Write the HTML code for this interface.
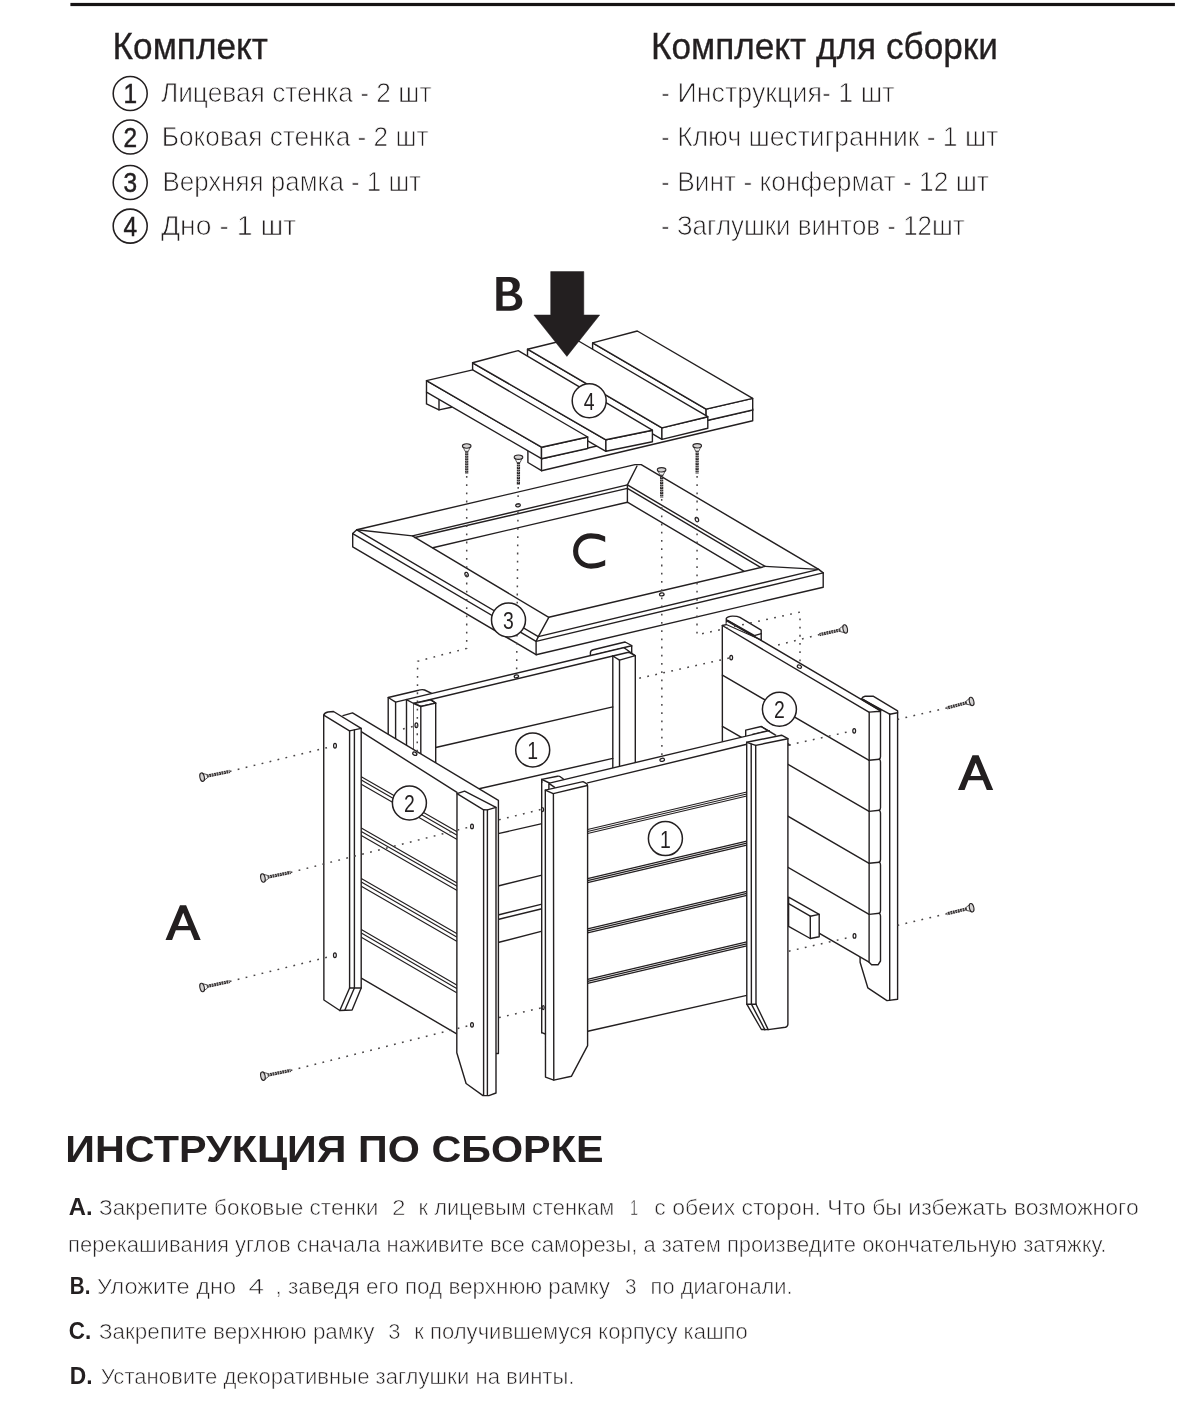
<!DOCTYPE html>
<html lang="ru"><head><meta charset="utf-8"><title>Инструкция по сборке</title>
<style>
html,body{margin:0;padding:0;background:#fff}
body{width:1177px;height:1408px;overflow:hidden;font-family:"Liberation Sans",sans-serif}
svg{display:block;font-family:"Liberation Sans",sans-serif;will-change:transform;transform:translateZ(0)}
</style></head><body>
<svg width="1177" height="1408" viewBox="0 0 1177 1408">
<rect width="1177" height="1408" fill="#fff"/>
<rect x="70.4" y="2.9" width="1104.5" height="3.2" fill="#161314"/>
<text x="112.6" y="58.7" font-size="36.2" font-weight="normal" fill="#231f20" stroke="#231f20" stroke-width="0.3" textLength="155.3" lengthAdjust="spacingAndGlyphs" text-anchor="start">Комплект</text>
<text x="160.9" y="102.4" font-size="27" font-weight="normal" fill="#231f20" stroke="#fff" stroke-width="0.75" textLength="270.6" lengthAdjust="spacingAndGlyphs" text-anchor="start">Лицевая стенка - 2 шт</text>
<circle cx="130.2" cy="93.5" r="17" fill="#fff" stroke="#231f20" stroke-width="1.55"/>
<text x="130.2" y="103.2" font-size="28.4" text-anchor="middle" fill="#231f20" stroke="#231f20" stroke-width="0.5" textLength="13.6" lengthAdjust="spacingAndGlyphs">1</text>
<text x="161.8" y="146.4" font-size="27" font-weight="normal" fill="#231f20" stroke="#fff" stroke-width="0.75" textLength="266.7" lengthAdjust="spacingAndGlyphs" text-anchor="start">Боковая стенка - 2 шт</text>
<circle cx="130.2" cy="137.0" r="17" fill="#fff" stroke="#231f20" stroke-width="1.55"/>
<text x="130.2" y="146.7" font-size="28.4" text-anchor="middle" fill="#231f20" stroke="#231f20" stroke-width="0.5" textLength="13.6" lengthAdjust="spacingAndGlyphs">2</text>
<text x="162.5" y="191.0" font-size="27" font-weight="normal" fill="#231f20" stroke="#fff" stroke-width="0.75" textLength="258.6" lengthAdjust="spacingAndGlyphs" text-anchor="start">Верхняя рамка - 1 шт</text>
<circle cx="130.2" cy="182.5" r="17" fill="#fff" stroke="#231f20" stroke-width="1.55"/>
<text x="130.2" y="192.2" font-size="28.4" text-anchor="middle" fill="#231f20" stroke="#231f20" stroke-width="0.5" textLength="13.6" lengthAdjust="spacingAndGlyphs">3</text>
<text x="160.9" y="234.7" font-size="27" font-weight="normal" fill="#231f20" stroke="#fff" stroke-width="0.75" textLength="135.4" lengthAdjust="spacingAndGlyphs" text-anchor="start">Дно - 1 шт</text>
<circle cx="130.2" cy="226.1" r="17" fill="#fff" stroke="#231f20" stroke-width="1.55"/>
<text x="130.2" y="235.8" font-size="28.4" text-anchor="middle" fill="#231f20" stroke="#231f20" stroke-width="0.5" textLength="13.6" lengthAdjust="spacingAndGlyphs">4</text>
<text x="650.9" y="58.6" font-size="36.2" font-weight="normal" fill="#231f20" stroke="#231f20" stroke-width="0.3" textLength="347.0" lengthAdjust="spacingAndGlyphs" text-anchor="start">Комплект для сборки</text>
<text x="661.1" y="102.4" font-size="27" font-weight="normal" fill="#231f20" stroke="#fff" stroke-width="0.75" textLength="233.4" lengthAdjust="spacingAndGlyphs" text-anchor="start">- Инструкция- 1 шт</text>
<text x="661.1" y="146.4" font-size="27" font-weight="normal" fill="#231f20" stroke="#fff" stroke-width="0.75" textLength="337.2" lengthAdjust="spacingAndGlyphs" text-anchor="start">- Ключ шестигранник - 1 шт</text>
<text x="661.1" y="191.3" font-size="27" font-weight="normal" fill="#231f20" stroke="#fff" stroke-width="0.75" textLength="327.8" lengthAdjust="spacingAndGlyphs" text-anchor="start">- Винт - конфермат - 12 шт</text>
<text x="661.1" y="235.3" font-size="27" font-weight="normal" fill="#231f20" stroke="#fff" stroke-width="0.75" textLength="303.6" lengthAdjust="spacingAndGlyphs" text-anchor="start">- Заглушки винтов - 12шт</text>
<text x="65.3" y="1161.9" font-size="37.7" font-weight="bold" fill="#231f20" textLength="538.2" lengthAdjust="spacingAndGlyphs" text-anchor="start">ИНСТРУКЦИЯ ПО СБОРКЕ</text>
<text x="68.8" y="1214.7" font-size="23.400000000000002" font-weight="bold" fill="#231f20" textLength="23.8" lengthAdjust="spacingAndGlyphs" text-anchor="start">A.</text>
<text x="99.0" y="1214.7" font-size="22.8" font-weight="normal" fill="#231f20" stroke="#fff" stroke-width="0.6" textLength="279.5" lengthAdjust="spacingAndGlyphs" text-anchor="start">Закрепите боковые стенки</text>
<text x="391.9" y="1214.7" font-size="22.8" font-weight="normal" fill="#231f20" stroke="#fff" stroke-width="0.6" textLength="13.5" lengthAdjust="spacingAndGlyphs" text-anchor="start">2</text>
<text x="418.6" y="1214.7" font-size="22.8" font-weight="normal" fill="#231f20" stroke="#fff" stroke-width="0.6" textLength="195.6" lengthAdjust="spacingAndGlyphs" text-anchor="start">к лицевым стенкам</text>
<text x="630.0" y="1214.7" font-size="22.8" font-weight="normal" fill="#231f20" stroke="#fff" stroke-width="0.6" textLength="8.0" lengthAdjust="spacingAndGlyphs" text-anchor="start">1</text>
<text x="654.3" y="1214.7" font-size="22.8" font-weight="normal" fill="#231f20" stroke="#fff" stroke-width="0.6" textLength="484.5" lengthAdjust="spacingAndGlyphs" text-anchor="start">с обеих сторон. Что бы избежать возможного</text>
<text x="68.1" y="1252.0" font-size="22.8" font-weight="normal" fill="#231f20" stroke="#fff" stroke-width="0.6" textLength="1038.4" lengthAdjust="spacingAndGlyphs" text-anchor="start">перекашивания углов сначала наживите все саморезы, а затем произведите окончательную затяжку.</text>
<text x="69.8" y="1293.7" font-size="23.400000000000002" font-weight="bold" fill="#231f20" textLength="20.6" lengthAdjust="spacingAndGlyphs" text-anchor="start">B.</text>
<text x="97.1" y="1293.7" font-size="22.8" font-weight="normal" fill="#231f20" stroke="#fff" stroke-width="0.6" textLength="138.9" lengthAdjust="spacingAndGlyphs" text-anchor="start">Уложите дно</text>
<text x="248.5" y="1293.7" font-size="22.8" font-weight="normal" fill="#231f20" stroke="#fff" stroke-width="0.6" textLength="15.5" lengthAdjust="spacingAndGlyphs" text-anchor="start">4</text>
<text x="275.6" y="1293.7" font-size="22.8" font-weight="normal" fill="#231f20" stroke="#fff" stroke-width="0.6" textLength="334.5" lengthAdjust="spacingAndGlyphs" text-anchor="start">, заведя его под верхнюю рамку</text>
<text x="625.1" y="1293.7" font-size="22.8" font-weight="normal" fill="#231f20" stroke="#fff" stroke-width="0.6" textLength="11.5" lengthAdjust="spacingAndGlyphs" text-anchor="start">3</text>
<text x="650.6" y="1293.7" font-size="22.8" font-weight="normal" fill="#231f20" stroke="#fff" stroke-width="0.6" textLength="142.0" lengthAdjust="spacingAndGlyphs" text-anchor="start">по диагонали.</text>
<text x="68.8" y="1339.2" font-size="23.400000000000002" font-weight="bold" fill="#231f20" textLength="22.5" lengthAdjust="spacingAndGlyphs" text-anchor="start">C.</text>
<text x="99.0" y="1339.2" font-size="22.8" font-weight="normal" fill="#231f20" stroke="#fff" stroke-width="0.6" textLength="275.5" lengthAdjust="spacingAndGlyphs" text-anchor="start">Закрепите верхнюю рамку</text>
<text x="388.3" y="1339.2" font-size="22.8" font-weight="normal" fill="#231f20" stroke="#fff" stroke-width="0.6" textLength="12.2" lengthAdjust="spacingAndGlyphs" text-anchor="start">3</text>
<text x="414.3" y="1339.2" font-size="22.8" font-weight="normal" fill="#231f20" stroke="#fff" stroke-width="0.6" textLength="333.5" lengthAdjust="spacingAndGlyphs" text-anchor="start">к получившемуся корпусу кашпо</text>
<text x="69.8" y="1384.4" font-size="23.400000000000002" font-weight="bold" fill="#231f20" textLength="22.8" lengthAdjust="spacingAndGlyphs" text-anchor="start">D.</text>
<text x="100.8" y="1384.4" font-size="22.8" font-weight="normal" fill="#231f20" stroke="#fff" stroke-width="0.6" textLength="473.7" lengthAdjust="spacingAndGlyphs" text-anchor="start">Установите декоративные заглушки на винты.</text>
<path d="M426.5,392 V403.9 L439,409.9 L451.4,407.3 V398 Z" fill="#fff" stroke="#231f20" stroke-width="1.4" stroke-linejoin="round" stroke-linecap="round" />
<line x1="439.0" y1="409.9" x2="439.0" y2="399.5" stroke="#231f20" stroke-width="1.4" stroke-linecap="round" />
<polygon points="527.9,449.0 527.9,462.5 541.5,470.7 752.7,420.8 752.7,409.0 600.0,430.0" fill="#fff" stroke="#231f20" stroke-width="1.4" stroke-linejoin="round" />
<line x1="541.5" y1="458.8" x2="752.7" y2="410.1" stroke="#231f20" stroke-width="1.4" stroke-linecap="round" />
<line x1="541.5" y1="458.8" x2="541.5" y2="470.7" stroke="#231f20" stroke-width="1.4" stroke-linecap="round" />
<polygon points="592.6,342.9 706.1,409.1 706.1,420.6 592.6,354.4" fill="#fff" stroke="#231f20" stroke-width="1.4" stroke-linejoin="round" />
<polygon points="706.1,409.1 752.7,398.4 752.7,409.9 706.1,420.6" fill="#fff" stroke="#231f20" stroke-width="1.4" stroke-linejoin="round" />
<polygon points="592.6,342.9 706.1,409.1 752.7,398.4 637.3,331.0" fill="#fff" stroke="#231f20" stroke-width="1.4" stroke-linejoin="round" />
<polygon points="527.5,349.2 661.9,427.9 661.9,439.4 527.5,360.7" fill="#fff" stroke="#231f20" stroke-width="1.4" stroke-linejoin="round" />
<polygon points="661.9,427.9 707.8,416.7 707.8,428.2 661.9,439.4" fill="#fff" stroke="#231f20" stroke-width="1.4" stroke-linejoin="round" />
<polygon points="527.5,349.2 661.9,427.9 707.8,416.7 573.4,338.0" fill="#fff" stroke="#231f20" stroke-width="1.4" stroke-linejoin="round" />
<polygon points="472.6,362.8 605.9,439.8 605.9,451.3 472.6,374.3" fill="#fff" stroke="#231f20" stroke-width="1.4" stroke-linejoin="round" />
<polygon points="605.9,439.8 652.4,430.2 652.4,441.7 605.9,451.3" fill="#fff" stroke="#231f20" stroke-width="1.4" stroke-linejoin="round" />
<polygon points="472.6,362.8 605.9,439.8 652.4,430.2 518.2,350.6" fill="#fff" stroke="#231f20" stroke-width="1.4" stroke-linejoin="round" />
<polygon points="426.5,380.6 541.5,447.2 541.5,458.7 426.5,392.1" fill="#fff" stroke="#231f20" stroke-width="1.4" stroke-linejoin="round" />
<polygon points="541.5,447.2 587.7,437.0 587.7,448.5 541.5,458.7" fill="#fff" stroke="#231f20" stroke-width="1.4" stroke-linejoin="round" />
<polygon points="426.5,380.6 541.5,447.2 587.7,437.0 472.7,369.9" fill="#fff" stroke="#231f20" stroke-width="1.4" stroke-linejoin="round" />
<polygon points="550.7,271.6 583.8,271.6 583.8,315.0 599.7,315.0 566.9,356.4 533.9,315.0 550.7,315.0" fill="#231f20" stroke="#231f20" stroke-width="0.5" stroke-linejoin="round" />
<path fill="#231f20" fill-rule="evenodd" d="M496.3,276.9 H509.5 C516.5,276.9 519.8,280.6 519.8,285.2 C519.8,289.2 517.8,291.8 514.6,293 C519.2,294.2 522.3,297.2 522.3,301.6 C522.3,307 518.4,310.8 510.8,310.8 H496.3 Z M502.6,281.8 H508.3 C511.3,281.8 512.8,283.6 512.8,286.4 C512.8,289.4 511,291.4 507.8,291.4 H502.6 Z M502.6,295.8 H509 C513.2,295.8 515.8,297.6 515.8,301 C515.8,304.4 513.4,306.2 509.4,306.2 H502.6 Z"/>
<path d="M356.8,529.8 635.0,464.6 641.2,464.6 818.7,569.4 823.2,572.9 823.2,587.2 536.1,654.7 352.7,546.9 352.7,533.6 Z M432.8,547.7 627.4,502.2 743.8,571.1 548.8,617.3 Z" fill="#fff" fill-rule="evenodd" stroke="none"/>
<polyline points="352.7,533.6 356.8,529.8 635.0,464.6 641.2,464.6 818.7,569.4 823.2,572.9" fill="none" stroke="#231f20" stroke-width="1.4" stroke-linejoin="round" stroke-linecap="round" />
<polyline points="356.8,529.8 538.3,636.6 818.7,569.4" fill="none" stroke="#231f20" stroke-width="1.4" stroke-linejoin="round" stroke-linecap="round" />
<polyline points="352.7,533.6 536.1,641.4 823.2,572.9" fill="none" stroke="#231f20" stroke-width="1.4" stroke-linejoin="round" stroke-linecap="round" />
<polyline points="352.7,533.6 352.7,546.9 536.1,654.7 823.2,587.2 823.2,572.9" fill="none" stroke="#231f20" stroke-width="1.4" stroke-linejoin="round" stroke-linecap="round" />
<polyline points="538.3,636.6 536.1,641.4 536.1,654.7" fill="none" stroke="#231f20" stroke-width="1.4" stroke-linejoin="round" stroke-linecap="round" />
<polyline points="412.4,535.9 627.4,484.9 765.2,566.4 548.8,617.3 412.4,535.9" fill="none" stroke="#231f20" stroke-width="1.4" stroke-linejoin="round" stroke-linecap="round" />
<line x1="356.8" y1="529.8" x2="412.4" y2="535.9" stroke="#231f20" stroke-width="1.4" stroke-linecap="round" />
<line x1="637.0" y1="466.0" x2="627.4" y2="484.9" stroke="#231f20" stroke-width="1.4" stroke-linecap="round" />
<line x1="818.7" y1="569.4" x2="765.2" y2="566.4" stroke="#231f20" stroke-width="1.4" stroke-linecap="round" />
<line x1="538.3" y1="636.6" x2="548.8" y2="617.3" stroke="#231f20" stroke-width="1.4" stroke-linecap="round" />
<polyline points="414.9,537.5 627.4,488.4 761.0,567.6" fill="none" stroke="#231f20" stroke-width="1.4" stroke-linejoin="round" stroke-linecap="round" />
<polyline points="432.8,547.7 627.4,502.2 743.8,571.1" fill="none" stroke="#231f20" stroke-width="1.4" stroke-linejoin="round" stroke-linecap="round" />
<line x1="627.4" y1="484.9" x2="627.4" y2="502.2" stroke="#231f20" stroke-width="1.4" stroke-linecap="round" />
<ellipse cx="518.0" cy="505.3" rx="2.3" ry="1.5" fill="#fff" stroke="#231f20" stroke-width="1.25" transform="rotate(-10 518.0 505.3)"/>
<ellipse cx="466.6" cy="574.6" rx="1.6" ry="2.3" fill="#fff" stroke="#231f20" stroke-width="1.25" transform="rotate(-20 466.6 574.6)"/>
<ellipse cx="661.8" cy="594.4" rx="2.3" ry="1.5" fill="#fff" stroke="#231f20" stroke-width="1.25" transform="rotate(-10 661.8 594.4)"/>
<ellipse cx="696.9" cy="519.6" rx="1.6" ry="2.3" fill="#fff" stroke="#231f20" stroke-width="1.25" transform="rotate(-20 696.9 519.6)"/>
<clipPath id="cc"><rect x="560" y="520" width="45.2" height="62"/></clipPath>
<path d="M609,541.2 C603,537.4 597,535.9 591,535.9 C582,535.9 575.6,542.5 575.6,551 C575.6,559.5 582,566.1 591,566.1 C597,566.1 603,564.6 609,560.8" fill="none" stroke="#231f20" stroke-width="5.1" clip-path="url(#cc)"/>
<path d="M388.2,770 V697.5 L418.7,690.2 Q422,689.2 424.6,690 L431.7,693.3 V770 Z" fill="#fff" stroke="#231f20" stroke-width="1.4" stroke-linejoin="round" stroke-linecap="round" />
<polyline points="388.2,697.5 395.6,702.1 395.6,770.0" fill="none" stroke="#231f20" stroke-width="1.4" stroke-linejoin="round" stroke-linecap="round" />
<path d="M590.4,656 V652.6 Q590.6,650.4 593.2,649.7 L625.1,642 L631.7,645.5 V654 L624,648 Z" fill="#fff" stroke="#231f20" stroke-width="1.4" stroke-linejoin="round" stroke-linecap="round" />
<polygon points="395.6,702.1 631.7,645.8 624.0,647.8 635.3,655.7 635.3,790.0 406.5,830.0 406.5,699.6" fill="#fff" stroke="#231f20" stroke-width="0" stroke-linejoin="round" />
<line x1="395.6" y1="702.1" x2="631.7" y2="645.8" stroke="#231f20" stroke-width="1.4" stroke-linecap="round" />
<line x1="406.5" y1="699.6" x2="413.7" y2="703.5" stroke="#231f20" stroke-width="1.4" stroke-linecap="round" />
<line x1="406.5" y1="699.6" x2="406.5" y2="770.0" stroke="#231f20" stroke-width="1.4" stroke-linecap="round" />
<line x1="413.7" y1="703.5" x2="413.7" y2="780.0" stroke="#231f20" stroke-width="1.4" stroke-linecap="round" />
<line x1="413.7" y1="703.5" x2="612.8" y2="656.0" stroke="#231f20" stroke-width="1.4" stroke-linecap="round" />
<polyline points="624.0,647.8 635.3,655.7" fill="none" stroke="#231f20" stroke-width="1.4" stroke-linejoin="round" stroke-linecap="round" />
<polygon points="413.7,703.5 420.8,706.5 435.7,703.1 430.9,699.9" fill="#fff" stroke="#231f20" stroke-width="1.4" stroke-linejoin="round" />
<polygon points="413.7,703.5 420.8,706.5 435.7,703.1 435.7,790.0 413.7,790.0" fill="#fff" stroke="#231f20" stroke-width="0" stroke-linejoin="round" />
<polyline points="413.7,703.5 420.8,706.5 435.7,703.1 430.9,699.9" fill="none" stroke="#231f20" stroke-width="1.4" stroke-linejoin="round" stroke-linecap="round" />
<line x1="420.8" y1="706.5" x2="420.8" y2="780.0" stroke="#231f20" stroke-width="1.4" stroke-linecap="round" />
<line x1="435.7" y1="703.1" x2="435.7" y2="790.0" stroke="#231f20" stroke-width="1.4" stroke-linecap="round" />
<polygon points="612.8,656.0 619.5,660.1 635.3,655.7 628.5,652.2" fill="#fff" stroke="#231f20" stroke-width="1.4" stroke-linejoin="round" />
<line x1="612.8" y1="656.0" x2="612.8" y2="790.0" stroke="#231f20" stroke-width="1.4" stroke-linecap="round" />
<line x1="619.5" y1="660.1" x2="619.5" y2="790.0" stroke="#231f20" stroke-width="1.4" stroke-linecap="round" />
<line x1="635.3" y1="655.7" x2="635.3" y2="790.0" stroke="#231f20" stroke-width="1.4" stroke-linecap="round" />
<line x1="435.7" y1="747.5" x2="612.8" y2="706.9" stroke="#231f20" stroke-width="1.4" stroke-linecap="round" />
<line x1="468.0" y1="791.3" x2="612.8" y2="758.4" stroke="#231f20" stroke-width="1.4" stroke-linecap="round" />
<ellipse cx="516.4" cy="676.3" rx="2.2" ry="1.4" fill="#fff" stroke="#231f20" stroke-width="1.25" transform="rotate(-12 516.4 676.3)"/>
<ellipse cx="416.4" cy="725.2" rx="1.4" ry="2.3" fill="#fff" stroke="#231f20" stroke-width="1.25" transform="rotate(0 416.4 725.2)"/>
<line x1="497.0" y1="833.9" x2="542.0" y2="823.6" stroke="#231f20" stroke-width="1.4" stroke-linecap="round" />
<line x1="497.0" y1="886.2" x2="542.0" y2="875.1" stroke="#231f20" stroke-width="1.4" stroke-linecap="round" />
<line x1="497.0" y1="915.2" x2="542.0" y2="904.1" stroke="#231f20" stroke-width="1.4" stroke-linecap="round" />
<line x1="497.0" y1="919.8" x2="542.0" y2="908.7" stroke="#231f20" stroke-width="1.4" stroke-linecap="round" />
<line x1="497.0" y1="942.8" x2="546.0" y2="930.1" stroke="#231f20" stroke-width="1.4" stroke-linecap="round" />
<path d="M861.6,698.8 Q862.6,696.6 865,696.3 L873.5,696.3 L897.6,710.8 V999.3 L887,1000.6 L867.8,987.8 L860.1,962.2 V700 Z" fill="#fff" stroke="#231f20" stroke-width="1.4" stroke-linejoin="round" stroke-linecap="round" />
<line x1="889.7" y1="714.2" x2="889.7" y2="1000.4" stroke="#231f20" stroke-width="1.4" stroke-linecap="round" />
<line x1="889.7" y1="714.2" x2="897.6" y2="712.8" stroke="#231f20" stroke-width="1.4" stroke-linecap="round" />
<line x1="889.7" y1="714.2" x2="862.6" y2="699.4" stroke="#231f20" stroke-width="1.4" stroke-linecap="round" />
<path d="M726.3,625.5 V618.3 Q727.6,616.5 732.3,616.1 Q737.4,616 739.9,617.4 L761.2,630.2 V641 Z" fill="#fff" stroke="#231f20" stroke-width="1.4" stroke-linejoin="round" stroke-linecap="round" />
<line x1="754.4" y1="635.7" x2="761.2" y2="633.6" stroke="#231f20" stroke-width="1.4" stroke-linecap="round" />
<polygon points="722.3,625.5 726.3,624.6 727.2,620.4 880.7,710.8 868.9,712.1 869.1,962.2 722.4,877.1" fill="#fff" stroke="#231f20" stroke-width="0" stroke-linejoin="round" />
<polyline points="722.4,760.0 722.3,625.5 726.3,624.6" fill="none" stroke="#231f20" stroke-width="1.4" stroke-linejoin="round" stroke-linecap="round" />
<line x1="726.3" y1="624.6" x2="761.2" y2="639.9" stroke="#231f20" stroke-width="1.1" stroke-linecap="round" />
<line x1="727.2" y1="620.4" x2="880.7" y2="710.8" stroke="#231f20" stroke-width="1.4" stroke-linecap="round" />
<line x1="727.4" y1="620.8" x2="754.4" y2="636.0" stroke="#231f20" stroke-width="2.2" stroke-linecap="round" />
<line x1="862.8" y1="699.6" x2="880.5" y2="710.2" stroke="#231f20" stroke-width="2.2" stroke-linecap="round" />
<line x1="722.3" y1="625.5" x2="868.9" y2="712.1" stroke="#231f20" stroke-width="1.4" stroke-linecap="round" />
<line x1="869.1" y1="760.3" x2="722.4" y2="675.2" stroke="#231f20" stroke-width="1.4" stroke-linecap="round" />
<line x1="869.1" y1="811.4" x2="722.4" y2="726.3" stroke="#231f20" stroke-width="1.4" stroke-linecap="round" />
<line x1="869.1" y1="863.3" x2="722.4" y2="778.2" stroke="#231f20" stroke-width="1.4" stroke-linecap="round" />
<line x1="869.1" y1="914.4" x2="722.4" y2="829.3" stroke="#231f20" stroke-width="1.4" stroke-linecap="round" />
<line x1="869.1" y1="962.2" x2="722.4" y2="877.1" stroke="#231f20" stroke-width="1.4" stroke-linecap="round" />
<path d="M869.2,712.1 L880.5,711.2 V756.6 Q880.4,758.6 879.2,759.2 Q880.4,759.8 880.5,761.8 V807.7 Q880.4,809.7 879.2,810.3 Q880.4,810.9 880.5,812.9 V859.6 Q880.4,861.6 879.2,862.2 Q880.4,862.8 880.5,864.8 V910.7 Q880.4,912.7 879.2,913.3 Q880.4,913.9 880.5,915.9 V961 L878,964.8 H871.6 L869.1,962.2 Z" fill="#fff" stroke="#231f20" stroke-width="1.4" stroke-linejoin="round" stroke-linecap="round" />
<line x1="869.1" y1="760.3" x2="879.3" y2="759.2" stroke="#231f20" stroke-width="1.4" stroke-linecap="round" />
<line x1="869.1" y1="811.4" x2="879.3" y2="810.3" stroke="#231f20" stroke-width="1.4" stroke-linecap="round" />
<line x1="869.1" y1="863.3" x2="879.3" y2="862.2" stroke="#231f20" stroke-width="1.4" stroke-linecap="round" />
<line x1="869.1" y1="914.4" x2="879.3" y2="913.3" stroke="#231f20" stroke-width="1.4" stroke-linecap="round" />
<polygon points="788.6,897.1 819.2,914.4 819.2,936.7 810.3,938.5 788.6,926.4" fill="#fff" stroke="#231f20" stroke-width="1.4" stroke-linejoin="round" />
<polyline points="788.6,903.6 810.3,916.2 819.2,914.4" fill="none" stroke="#231f20" stroke-width="1.4" stroke-linejoin="round" stroke-linecap="round" />
<line x1="810.3" y1="916.2" x2="810.3" y2="938.5" stroke="#231f20" stroke-width="1.4" stroke-linecap="round" />
<ellipse cx="731.2" cy="657.6" rx="1.4" ry="2.3" fill="#fff" stroke="#231f20" stroke-width="1.25" transform="rotate(0 731.2 657.6)"/>
<ellipse cx="799.4" cy="666.6" rx="2.2" ry="1.5" fill="#fff" stroke="#231f20" stroke-width="1.25" transform="rotate(25 799.4 666.6)"/>
<ellipse cx="854.2" cy="730.8" rx="1.4" ry="2.3" fill="#fff" stroke="#231f20" stroke-width="1.25" transform="rotate(0 854.2 730.8)"/>
<ellipse cx="854.5" cy="935.9" rx="1.4" ry="2.3" fill="#fff" stroke="#231f20" stroke-width="1.25" transform="rotate(0 854.5 935.9)"/>
<polygon points="343.0,715.6 352.5,712.9 498.4,800.4 498.4,1053.5 456.7,1033.8 361.3,978.1 343.0,900.0" fill="#fff" stroke="#231f20" stroke-width="0" stroke-linejoin="round" />
<polyline points="343.0,715.6 352.5,712.9 498.4,800.4 498.4,1053.5 496.0,1053.5" fill="none" stroke="#231f20" stroke-width="1.4" stroke-linejoin="round" stroke-linecap="round" />
<line x1="361.2" y1="731.7" x2="457.0" y2="792.4" stroke="#231f20" stroke-width="1.4" stroke-linecap="round" />
<line x1="361.3" y1="978.1" x2="456.7" y2="1033.8" stroke="#231f20" stroke-width="1.4" stroke-linecap="round" />
<line x1="361.3" y1="776.7" x2="456.7" y2="831.6" stroke="#231f20" stroke-width="1.15" stroke-linecap="round" />
<line x1="361.3" y1="780.1" x2="456.7" y2="835.0" stroke="#231f20" stroke-width="1.15" stroke-linecap="round" />
<line x1="361.3" y1="784.3" x2="456.7" y2="839.2" stroke="#231f20" stroke-width="1.15" stroke-linecap="round" />
<line x1="361.3" y1="828.0" x2="456.7" y2="882.7" stroke="#231f20" stroke-width="1.15" stroke-linecap="round" />
<line x1="361.3" y1="831.4" x2="456.7" y2="886.1" stroke="#231f20" stroke-width="1.15" stroke-linecap="round" />
<line x1="361.3" y1="835.6" x2="456.7" y2="890.3" stroke="#231f20" stroke-width="1.15" stroke-linecap="round" />
<line x1="361.3" y1="878.6" x2="456.7" y2="933.6" stroke="#231f20" stroke-width="1.15" stroke-linecap="round" />
<line x1="361.3" y1="882.0" x2="456.7" y2="937.0" stroke="#231f20" stroke-width="1.15" stroke-linecap="round" />
<line x1="361.3" y1="886.2" x2="456.7" y2="941.2" stroke="#231f20" stroke-width="1.15" stroke-linecap="round" />
<line x1="361.3" y1="929.6" x2="456.7" y2="985.1" stroke="#231f20" stroke-width="1.15" stroke-linecap="round" />
<line x1="361.3" y1="933.0" x2="456.7" y2="988.5" stroke="#231f20" stroke-width="1.15" stroke-linecap="round" />
<line x1="361.3" y1="937.2" x2="456.7" y2="992.7" stroke="#231f20" stroke-width="1.15" stroke-linecap="round" />
<path d="M323.7,715.2 Q324.5,712.6 328,712 L333.5,711.5 L361.2,728.4 V988 L352.1,1010 L339.8,1010.5 L323.9,1000 Z" fill="#fff" stroke="#231f20" stroke-width="1.4" stroke-linejoin="round" stroke-linecap="round" />
<polyline points="323.7,715.2 349.5,730.9 361.2,728.4" fill="none" stroke="#231f20" stroke-width="1.4" stroke-linejoin="round" stroke-linecap="round" />
<line x1="349.6" y1="730.9" x2="349.6" y2="988.0" stroke="#231f20" stroke-width="1.4" stroke-linecap="round" />
<line x1="354.4" y1="729.9" x2="354.4" y2="988.0" stroke="#231f20" stroke-width="1.4" stroke-linecap="round" />
<line x1="349.6" y1="988.0" x2="361.2" y2="988.0" stroke="#231f20" stroke-width="1.4" stroke-linecap="round" />
<line x1="349.6" y1="988.0" x2="339.8" y2="1010.5" stroke="#231f20" stroke-width="1.4" stroke-linecap="round" />
<line x1="354.4" y1="988.0" x2="344.8" y2="1010.3" stroke="#231f20" stroke-width="1.4" stroke-linecap="round" />
<path d="M457,793.7 L464.6,791.1 L496,807.4 V1093 L488.9,1095.6 H483 L466.1,1083.5 L456.8,1052.7 Z" fill="#fff" stroke="#231f20" stroke-width="1.4" stroke-linejoin="round" stroke-linecap="round" />
<polyline points="457.0,793.7 483.6,809.8 487.5,809.9 496.0,807.4" fill="none" stroke="#231f20" stroke-width="1.4" stroke-linejoin="round" stroke-linecap="round" />
<line x1="483.6" y1="809.8" x2="483.6" y2="1095.4" stroke="#231f20" stroke-width="1.4" stroke-linecap="round" />
<line x1="487.4" y1="809.9" x2="487.4" y2="1095.4" stroke="#231f20" stroke-width="1.4" stroke-linecap="round" />
<ellipse cx="335.0" cy="745.7" rx="1.4" ry="2.3" fill="#fff" stroke="#231f20" stroke-width="1.25" transform="rotate(0 335.0 745.7)"/>
<ellipse cx="334.9" cy="955.2" rx="1.4" ry="2.3" fill="#fff" stroke="#231f20" stroke-width="1.25" transform="rotate(0 334.9 955.2)"/>
<ellipse cx="472.0" cy="826.4" rx="1.4" ry="2.3" fill="#fff" stroke="#231f20" stroke-width="1.25" transform="rotate(0 472.0 826.4)"/>
<ellipse cx="472.0" cy="1024.8" rx="1.4" ry="2.3" fill="#fff" stroke="#231f20" stroke-width="1.25" transform="rotate(0 472.0 1024.8)"/>
<ellipse cx="414.8" cy="753.7" rx="2.2" ry="1.5" fill="#fff" stroke="#231f20" stroke-width="1.25" transform="rotate(25 414.8 753.7)"/>
<path d="M541.7,795 V779.4 L557.5,776.2 Q559.6,776 561,777.2 L563.6,779.3 L590,795 Z" fill="#fff" stroke="#231f20" stroke-width="1.4" stroke-linejoin="round" stroke-linecap="round" />
<polyline points="541.7,779.4 549.4,783.0 549.4,788.6" fill="none" stroke="#231f20" stroke-width="1.4" stroke-linejoin="round" stroke-linecap="round" />
<path d="M745.7,745 V730.1 L761.2,726.5 L774.9,734.7 L790,745 Z" fill="#fff" stroke="#231f20" stroke-width="1.4" stroke-linejoin="round" stroke-linecap="round" />
<line x1="752.5" y1="734.4" x2="768.5" y2="730.6" stroke="#231f20" stroke-width="1.4" stroke-linecap="round" />
<polygon points="549.4,783.0 563.6,779.7 769.3,730.6 781.0,737.0 746.8,995.4 587.8,1031.2 541.7,1032.7 541.7,783.0" fill="#fff" stroke="#231f20" stroke-width="0" stroke-linejoin="round" />
<line x1="549.4" y1="783.1" x2="769.3" y2="730.6" stroke="#231f20" stroke-width="1.4" stroke-linecap="round" />
<line x1="587.6" y1="782.9" x2="746.7" y2="744.3" stroke="#231f20" stroke-width="1.4" stroke-linecap="round" />
<line x1="541.7" y1="779.4" x2="541.7" y2="1032.7" stroke="#231f20" stroke-width="1.4" stroke-linecap="round" />
<line x1="587.8" y1="1031.2" x2="746.8" y2="995.4" stroke="#231f20" stroke-width="1.4" stroke-linecap="round" />
<line x1="761.2" y1="726.5" x2="775.5" y2="735.1" stroke="#231f20" stroke-width="1.4" stroke-linecap="round" />
<polyline points="548.9,788.8 548.9,783.4 554.7,787.4" fill="none" stroke="#231f20" stroke-width="1.4" stroke-linejoin="round" stroke-linecap="round" />
<line x1="587.6" y1="829.5" x2="746.8" y2="792.0" stroke="#231f20" stroke-width="1.15" stroke-linecap="round" />
<line x1="587.6" y1="831.5" x2="746.8" y2="794.0" stroke="#231f20" stroke-width="1.15" stroke-linecap="round" />
<line x1="587.6" y1="833.5" x2="746.8" y2="796.0" stroke="#231f20" stroke-width="1.15" stroke-linecap="round" />
<line x1="587.6" y1="878.6" x2="746.8" y2="841.1" stroke="#231f20" stroke-width="1.15" stroke-linecap="round" />
<line x1="587.6" y1="880.6" x2="746.8" y2="843.1" stroke="#231f20" stroke-width="1.15" stroke-linecap="round" />
<line x1="587.6" y1="882.6" x2="746.8" y2="845.1" stroke="#231f20" stroke-width="1.15" stroke-linecap="round" />
<line x1="587.6" y1="928.9" x2="746.8" y2="891.4" stroke="#231f20" stroke-width="1.15" stroke-linecap="round" />
<line x1="587.6" y1="930.9" x2="746.8" y2="893.4" stroke="#231f20" stroke-width="1.15" stroke-linecap="round" />
<line x1="587.6" y1="932.9" x2="746.8" y2="895.4" stroke="#231f20" stroke-width="1.15" stroke-linecap="round" />
<line x1="587.6" y1="979.4" x2="746.8" y2="941.9" stroke="#231f20" stroke-width="1.15" stroke-linecap="round" />
<line x1="587.6" y1="981.4" x2="746.8" y2="943.9" stroke="#231f20" stroke-width="1.15" stroke-linecap="round" />
<line x1="587.6" y1="983.4" x2="746.8" y2="945.9" stroke="#231f20" stroke-width="1.15" stroke-linecap="round" />
<path d="M545.3,790.1 L583,781.6 L586.2,783.4 Q587.6,784.2 587.6,786 V1045.6 L571.5,1076.2 L553.8,1080.1 L545.5,1077.1 Z" fill="#fff" stroke="#231f20" stroke-width="1.4" stroke-linejoin="round" stroke-linecap="round" />
<polyline points="545.3,790.1 553.2,793.6 587.3,785.5" fill="none" stroke="#231f20" stroke-width="1.4" stroke-linejoin="round" stroke-linecap="round" />
<line x1="553.4" y1="793.6" x2="553.8" y2="1080.1" stroke="#231f20" stroke-width="1.4" stroke-linecap="round" />
<line x1="541.7" y1="1032.7" x2="545.4" y2="1034.0" stroke="#231f20" stroke-width="1.4" stroke-linecap="round" />
<path d="M746.7,742.3 L781.6,735.2 L787.9,738.7 V1024.2 Q787.8,1026.6 785.4,1027.2 L768.2,1029.6 L761.4,1029.5 L746.8,1004.2 Z" fill="#fff" stroke="#231f20" stroke-width="1.4" stroke-linejoin="round" stroke-linecap="round" />
<polyline points="746.7,742.3 755.7,745.4 787.9,738.7" fill="none" stroke="#231f20" stroke-width="1.4" stroke-linejoin="round" stroke-linecap="round" />
<line x1="751.2" y1="743.9" x2="751.4" y2="1004.2" stroke="#231f20" stroke-width="1.4" stroke-linecap="round" />
<line x1="755.7" y1="745.4" x2="756.0" y2="1004.2" stroke="#231f20" stroke-width="1.4" stroke-linecap="round" />
<line x1="746.8" y1="1004.2" x2="756.0" y2="1004.2" stroke="#231f20" stroke-width="1.4" stroke-linecap="round" />
<line x1="751.4" y1="1004.2" x2="764.9" y2="1029.8" stroke="#231f20" stroke-width="1.4" stroke-linecap="round" />
<line x1="756.0" y1="1004.2" x2="768.2" y2="1029.6" stroke="#231f20" stroke-width="1.4" stroke-linecap="round" />
<ellipse cx="662.2" cy="759.8" rx="2.3" ry="1.5" fill="#fff" stroke="#231f20" stroke-width="1.25" transform="rotate(-12 662.2 759.8)"/>
<ellipse cx="542.6" cy="809.5" rx="1.0" ry="2.0" fill="#fff" stroke="#231f20" stroke-width="1.25" transform="rotate(0 542.6 809.5)"/>
<ellipse cx="543.2" cy="1007.6" rx="1.0" ry="2.0" fill="#fff" stroke="#231f20" stroke-width="1.25" transform="rotate(0 543.2 1007.6)"/>
<polyline points="466.7,476.0 466.7,648.4 417.6,661.3 417.2,752.0" fill="none" stroke="#4a4647" stroke-width="1.5" stroke-dasharray="1.8 6.4" />
<polyline points="518.2,487.0 516.6,675.0" fill="none" stroke="#4a4647" stroke-width="1.5" stroke-dasharray="1.8 6.4" />
<polyline points="661.7,499.0 661.9,758.5" fill="none" stroke="#4a4647" stroke-width="1.5" stroke-dasharray="1.8 6.4" />
<polyline points="697.1,476.0 697.0,634.8 800.0,612.1 800.0,664.5" fill="none" stroke="#4a4647" stroke-width="1.5" stroke-dasharray="1.8 6.4" />
<polyline points="819.6,634.6 776.0,645.5" fill="none" stroke="#4a4647" stroke-width="1.5" stroke-dasharray="1.8 6.4" />
<polyline points="729.0,658.1 636.3,678.9" fill="none" stroke="#4a4647" stroke-width="1.5" stroke-dasharray="1.8 6.4" />
<polyline points="947.1,707.9 897.5,719.4" fill="none" stroke="#4a4647" stroke-width="1.5" stroke-dasharray="1.8 6.4" />
<polyline points="788.8,745.0 852.0,731.0" fill="none" stroke="#4a4647" stroke-width="1.5" stroke-dasharray="1.8 6.4" />
<polyline points="947.1,913.7 897.5,925.3" fill="none" stroke="#4a4647" stroke-width="1.5" stroke-dasharray="1.8 6.4" />
<polyline points="788.8,951.2 852.0,936.8" fill="none" stroke="#4a4647" stroke-width="1.5" stroke-dasharray="1.8 6.4" />
<polyline points="229.7,771.4 333.0,746.2" fill="none" stroke="#4a4647" stroke-width="1.5" stroke-dasharray="1.8 6.4" />
<polyline points="403.0,728.9 414.8,726.0" fill="none" stroke="#4a4647" stroke-width="1.5" stroke-dasharray="1.8 6.4" />
<polyline points="290.6,872.4 470.0,826.9" fill="none" stroke="#4a4647" stroke-width="1.5" stroke-dasharray="1.8 6.4" />
<polyline points="499.0,819.8 542.0,809.2" fill="none" stroke="#4a4647" stroke-width="1.5" stroke-dasharray="1.8 6.4" />
<polyline points="229.7,981.5 333.0,955.8" fill="none" stroke="#4a4647" stroke-width="1.5" stroke-dasharray="1.8 6.4" />
<polyline points="290.6,1070.4 470.0,1025.3" fill="none" stroke="#4a4647" stroke-width="1.5" stroke-dasharray="1.8 6.4" />
<polyline points="499.0,1017.6 542.5,1007.6" fill="none" stroke="#4a4647" stroke-width="1.5" stroke-dasharray="1.8 6.4" />
<circle cx="589.2" cy="400.7" r="17" fill="#fff" stroke="#231f20" stroke-width="1.5"/>
<text x="589.2" y="409.6" font-size="24.3" text-anchor="middle" fill="#231f20" textLength="10.8" lengthAdjust="spacingAndGlyphs">4</text>
<circle cx="508.5" cy="620.0" r="17" fill="#fff" stroke="#231f20" stroke-width="1.5"/>
<text x="508.5" y="628.9" font-size="24.3" text-anchor="middle" fill="#231f20" textLength="10.8" lengthAdjust="spacingAndGlyphs">3</text>
<circle cx="532.7" cy="749.9" r="17" fill="#fff" stroke="#231f20" stroke-width="1.5"/>
<text x="532.7" y="758.8" font-size="24.3" text-anchor="middle" fill="#231f20" textLength="10.8" lengthAdjust="spacingAndGlyphs">1</text>
<circle cx="779.4" cy="709.3" r="17" fill="#fff" stroke="#231f20" stroke-width="1.5"/>
<text x="779.4" y="718.2" font-size="24.3" text-anchor="middle" fill="#231f20" textLength="10.8" lengthAdjust="spacingAndGlyphs">2</text>
<circle cx="409.4" cy="803.0" r="17" fill="#fff" stroke="#231f20" stroke-width="1.5"/>
<text x="409.4" y="811.9" font-size="24.3" text-anchor="middle" fill="#231f20" textLength="10.8" lengthAdjust="spacingAndGlyphs">2</text>
<circle cx="665.4" cy="838.6" r="17" fill="#fff" stroke="#231f20" stroke-width="1.5"/>
<text x="665.4" y="847.5" font-size="24.3" text-anchor="middle" fill="#231f20" textLength="10.8" lengthAdjust="spacingAndGlyphs">1</text>
<g transform="translate(466.7 446.3) rotate(90.0)"><line x1="4.5" y1="0" x2="27.5" y2="0" stroke="#2f2b2c" stroke-width="3.2" stroke-dasharray="1.9 0.6"/><line x1="4.5" y1="0" x2="27.5" y2="0" stroke="#b5b3b3" stroke-width="0.7" stroke-dasharray="1 1.5"/><path d="M0.8,-3.6 L5,-1.6 L5,1.6 L0.8,3.6 Z" fill="#f4f4f4" stroke="#3d393a" stroke-width="0.8"/><ellipse cx="-0.3" cy="0" rx="2.2" ry="4.3" fill="#d5d3d3" stroke="#2a2627" stroke-width="1.1"/></g>
<g transform="translate(518.5 457.5) rotate(90.2)"><line x1="4.5" y1="0" x2="27.5" y2="0" stroke="#2f2b2c" stroke-width="3.2" stroke-dasharray="1.9 0.6"/><line x1="4.5" y1="0" x2="27.5" y2="0" stroke="#b5b3b3" stroke-width="0.7" stroke-dasharray="1 1.5"/><path d="M0.8,-3.6 L5,-1.6 L5,1.6 L0.8,3.6 Z" fill="#f4f4f4" stroke="#3d393a" stroke-width="0.8"/><ellipse cx="-0.3" cy="0" rx="2.2" ry="4.3" fill="#d5d3d3" stroke="#2a2627" stroke-width="1.1"/></g>
<g transform="translate(661.6 470.1) rotate(89.8)"><line x1="4.5" y1="0" x2="27.4" y2="0" stroke="#2f2b2c" stroke-width="3.2" stroke-dasharray="1.9 0.6"/><line x1="4.5" y1="0" x2="27.4" y2="0" stroke="#b5b3b3" stroke-width="0.7" stroke-dasharray="1 1.5"/><path d="M0.8,-3.6 L5,-1.6 L5,1.6 L0.8,3.6 Z" fill="#f4f4f4" stroke="#3d393a" stroke-width="0.8"/><ellipse cx="-0.3" cy="0" rx="2.2" ry="4.3" fill="#d5d3d3" stroke="#2a2627" stroke-width="1.1"/></g>
<g transform="translate(697.2 446.1) rotate(90.2)"><line x1="4.5" y1="0" x2="27.5" y2="0" stroke="#2f2b2c" stroke-width="3.2" stroke-dasharray="1.9 0.6"/><line x1="4.5" y1="0" x2="27.5" y2="0" stroke="#b5b3b3" stroke-width="0.7" stroke-dasharray="1 1.5"/><path d="M0.8,-3.6 L5,-1.6 L5,1.6 L0.8,3.6 Z" fill="#f4f4f4" stroke="#3d393a" stroke-width="0.8"/><ellipse cx="-0.3" cy="0" rx="2.2" ry="4.3" fill="#d5d3d3" stroke="#2a2627" stroke-width="1.1"/></g>
<g transform="translate(202.4 777.1) rotate(-11.8)"><line x1="4.5" y1="0" x2="27.9" y2="0" stroke="#2f2b2c" stroke-width="3.2" stroke-dasharray="1.9 0.6"/><line x1="4.5" y1="0" x2="27.9" y2="0" stroke="#b5b3b3" stroke-width="0.7" stroke-dasharray="1 1.5"/><path d="M0.8,-3.6 L5,-1.6 L5,1.6 L0.8,3.6 Z" fill="#f4f4f4" stroke="#3d393a" stroke-width="0.8"/><ellipse cx="-0.3" cy="0" rx="2.2" ry="4.3" fill="#d5d3d3" stroke="#2a2627" stroke-width="1.1"/></g>
<g transform="translate(263.2 878.0) rotate(-11.6)"><line x1="4.5" y1="0" x2="28.0" y2="0" stroke="#2f2b2c" stroke-width="3.2" stroke-dasharray="1.9 0.6"/><line x1="4.5" y1="0" x2="28.0" y2="0" stroke="#b5b3b3" stroke-width="0.7" stroke-dasharray="1 1.5"/><path d="M0.8,-3.6 L5,-1.6 L5,1.6 L0.8,3.6 Z" fill="#f4f4f4" stroke="#3d393a" stroke-width="0.8"/><ellipse cx="-0.3" cy="0" rx="2.2" ry="4.3" fill="#d5d3d3" stroke="#2a2627" stroke-width="1.1"/></g>
<g transform="translate(202.4 987.4) rotate(-12.2)"><line x1="4.5" y1="0" x2="27.9" y2="0" stroke="#2f2b2c" stroke-width="3.2" stroke-dasharray="1.9 0.6"/><line x1="4.5" y1="0" x2="27.9" y2="0" stroke="#b5b3b3" stroke-width="0.7" stroke-dasharray="1 1.5"/><path d="M0.8,-3.6 L5,-1.6 L5,1.6 L0.8,3.6 Z" fill="#f4f4f4" stroke="#3d393a" stroke-width="0.8"/><ellipse cx="-0.3" cy="0" rx="2.2" ry="4.3" fill="#d5d3d3" stroke="#2a2627" stroke-width="1.1"/></g>
<g transform="translate(263.2 1076.1) rotate(-11.8)"><line x1="4.5" y1="0" x2="28.0" y2="0" stroke="#2f2b2c" stroke-width="3.2" stroke-dasharray="1.9 0.6"/><line x1="4.5" y1="0" x2="28.0" y2="0" stroke="#b5b3b3" stroke-width="0.7" stroke-dasharray="1 1.5"/><path d="M0.8,-3.6 L5,-1.6 L5,1.6 L0.8,3.6 Z" fill="#f4f4f4" stroke="#3d393a" stroke-width="0.8"/><ellipse cx="-0.3" cy="0" rx="2.2" ry="4.3" fill="#d5d3d3" stroke="#2a2627" stroke-width="1.1"/></g>
<g transform="translate(844.9 629.0) rotate(167.5)"><line x1="4.5" y1="0" x2="25.9" y2="0" stroke="#2f2b2c" stroke-width="3.2" stroke-dasharray="1.9 0.6"/><line x1="4.5" y1="0" x2="25.9" y2="0" stroke="#b5b3b3" stroke-width="0.7" stroke-dasharray="1 1.5"/><path d="M0.8,-3.6 L5,-1.6 L5,1.6 L0.8,3.6 Z" fill="#f4f4f4" stroke="#3d393a" stroke-width="0.8"/><ellipse cx="-0.3" cy="0" rx="2.2" ry="4.3" fill="#d5d3d3" stroke="#2a2627" stroke-width="1.1"/></g>
<g transform="translate(971.3 701.5) rotate(165.2)"><line x1="4.5" y1="0" x2="25.0" y2="0" stroke="#2f2b2c" stroke-width="3.2" stroke-dasharray="1.9 0.6"/><line x1="4.5" y1="0" x2="25.0" y2="0" stroke="#b5b3b3" stroke-width="0.7" stroke-dasharray="1 1.5"/><path d="M0.8,-3.6 L5,-1.6 L5,1.6 L0.8,3.6 Z" fill="#f4f4f4" stroke="#3d393a" stroke-width="0.8"/><ellipse cx="-0.3" cy="0" rx="2.2" ry="4.3" fill="#d5d3d3" stroke="#2a2627" stroke-width="1.1"/></g>
<g transform="translate(971.3 907.8) rotate(166.3)"><line x1="4.5" y1="0" x2="24.9" y2="0" stroke="#2f2b2c" stroke-width="3.2" stroke-dasharray="1.9 0.6"/><line x1="4.5" y1="0" x2="24.9" y2="0" stroke="#b5b3b3" stroke-width="0.7" stroke-dasharray="1 1.5"/><path d="M0.8,-3.6 L5,-1.6 L5,1.6 L0.8,3.6 Z" fill="#f4f4f4" stroke="#3d393a" stroke-width="0.8"/><ellipse cx="-0.3" cy="0" rx="2.2" ry="4.3" fill="#d5d3d3" stroke="#2a2627" stroke-width="1.1"/></g>
<path transform="translate(0 0)" fill="#231f20" fill-rule="evenodd" d="M958,789.9 L972.5,755.2 L978.6,755.2 L993.2,789.9 L986.8,789.9 L982.9,780.2 L968.3,780.2 L964.6,789.9 Z M970.5,776.1 L980.9,776.1 L975.7,762.7 Z"/>
<path transform="translate(-792.5 150)" fill="#231f20" fill-rule="evenodd" d="M958,789.9 L972.5,755.2 L978.6,755.2 L993.2,789.9 L986.8,789.9 L982.9,780.2 L968.3,780.2 L964.6,789.9 Z M970.5,776.1 L980.9,776.1 L975.7,762.7 Z"/>
</svg>
</body></html>
